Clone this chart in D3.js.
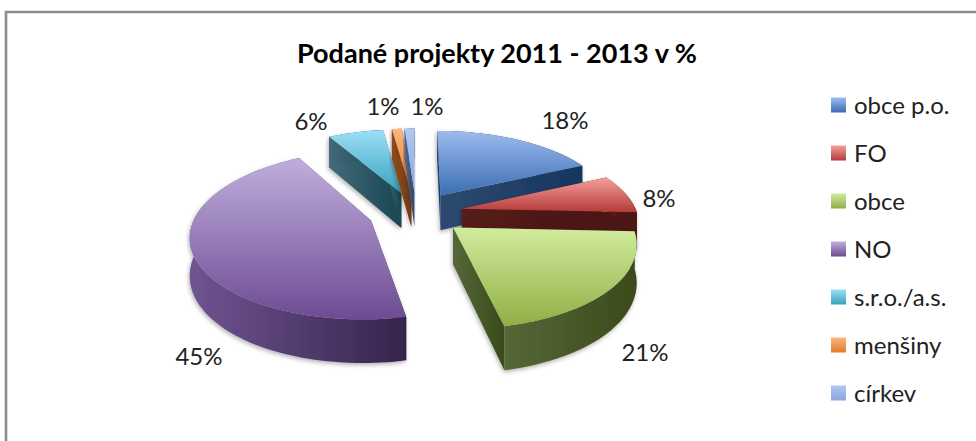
<!DOCTYPE html>
<html><head><meta charset="utf-8">
<script src="https://cdn.jsdelivr.net/npm/d3@7"></script>
<style>html,body{margin:0;padding:0;background:#fff}svg{display:block}text{font-family:Lato,"Open Sans",sans-serif;fill:#222}</style>
</head><body><svg id="c" width="976" height="441"></svg>
<script>
const title = "Podané projekty 2011 - 2013 v %";
const categories = ["obce p.o.","FO","obce","NO","s.r.o./a.s.","menšiny","církev"];
const values = [18.0,7.7,21.0,45.0,6.1,1.1,1.1];
const topLight = ["#9dbcf0","#f4a09e","#d2ec9e","#c0aedc","#9be0f6","#fcb680","#aec8f4"];
const topDark  = ["#3a6db2","#b53a38","#8fae44","#6d4b93","#38a0bd","#e57a2c","#8ca8da"];
const wallLight= ["#2f4a70","#541c1a","#566838","#6f5491","#456a7a","#8a4e22","#56688c"];
const wallDark = ["#16365e","#4a1412","#3a4a1a","#36244c","#174650","#7a3c10","#34486c"];

const cx=416, cy=213, R=175, kR=80, persp=0.16, explode=0.27, H=36;
const svg=d3.select("#c"), defs=svg.append("defs");
const f=defs.append("filter").attr("id","sh").attr("x","-10%").attr("y","-10%").attr("width","120%").attr("height","125%");
f.append("feDropShadow").attr("dx",-1).attr("dy",2).attr("stdDeviation",2).attr("flood-color","#000").attr("flood-opacity",.3);

function grad(id,c0,c1,vert){
  const g=defs.append("linearGradient").attr("id",id).attr("x1",0).attr("y1",0).attr("x2",vert?0:1).attr("y2",vert?1:0);
  g.append("stop").attr("offset",0).attr("stop-color",c0);
  g.append("stop").attr("offset",1).attr("stop-color",c1);
}
categories.forEach((c,i)=>{grad("t"+i,topLight[i],topDark[i],true);grad("w"+i,wallLight[i],wallDark[i],false);});

svg.append("path").attr("d","M6 441V12H976").attr("fill","none").attr("stroke","#8c8c8c").attr("stroke-width",2.6);

const arcs=d3.pie().sort(null).value(d=>d)(values);
// plane coordinates in radius units, y towards the viewer → screen
function proj(x,y,z){const w=1-persp*y;return [cx+R*x/w, cy+kR*y/w+z*H/w];}
const line=d3.line();
function geom(a){
  const m=(a.startAngle+a.endAngle)/2, ax=explode*Math.sin(m), ay=-explode*Math.cos(m);
  const n=Math.max(4,Math.ceil((a.endAngle-a.startAngle)/0.03));
  const rim=d3.range(n+1).map(i=>{const t=a.startAngle+(a.endAngle-a.startAngle)*i/n;return [ax+Math.sin(t),ay-Math.cos(t)];});
  return {apex:[ax,ay],rim};
}
const P=(p,z)=>proj(p[0],p[1],z);
const drawOrder=[4,5,6,0,1,3,2];
const gp=svg.append("g");
drawOrder.forEach(i=>{
  const g=geom(arcs[i]);
  const s=gp.append("g").attr("filter","url(#sh)");
  const wall=`url(#w${i})`;
  const first=g.rim[0], last=g.rim[g.rim.length-1];
  [first,last].forEach(e=>{
    s.append("path").attr("fill",wall).attr("d",line([P(g.apex,0),P(e,0),P(e,1),P(g.apex,1)])+"Z");
  });
  s.append("path").attr("fill",wall).attr("d",line([...g.rim.map(p=>P(p,0)),...g.rim.slice().reverse().map(p=>P(p,1))])+"Z");
  s.append("path").attr("fill",`url(#t${i})`).attr("d",line([P(g.apex,0),...g.rim.map(p=>P(p,0))])+"Z");
});

const labelPos=[[565,119],[659,197],[645,351],[199,355],[311,120],[383,105],[427,105]];
arcs.forEach((a,i)=>{
  svg.append("text").attr("x",labelPos[i][0]).attr("y",labelPos[i][1]).attr("text-anchor","middle").attr("dominant-baseline","central")
    .attr("font-size",24).text(Math.round(a.data)+"%");
});

svg.append("text").attr("x",497).attr("y",63).attr("text-anchor","middle").attr("font-size",27).attr("font-weight",700).style("fill","#000").text(title);

const ly=d3.scalePoint().domain(categories).range([105,393]);
categories.forEach((c,i)=>{
  svg.append("rect").attr("x",831).attr("y",ly(c)-7.5).attr("width",15).attr("height",15).attr("fill",`url(#t${i})`);
  svg.append("text").attr("x",854).attr("y",ly(c)-1).attr("dominant-baseline","central").attr("font-size",24).text(c);
});
</script></body></html>
